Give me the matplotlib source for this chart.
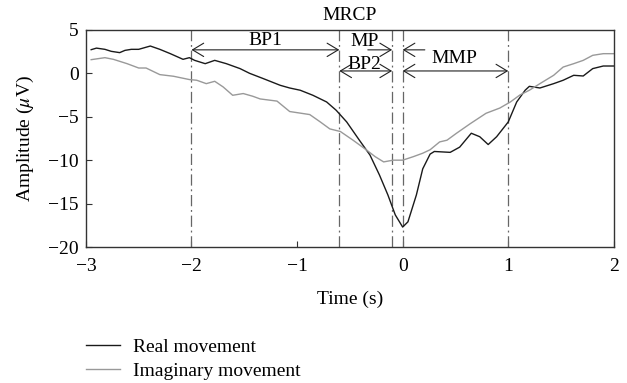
import matplotlib.pyplot as plt

plt.rcParams['font.family'] = ['Liberation Serif', 'DejaVu Serif']
plt.rcParams['mathtext.fontset'] = 'stix'

# real movement (black)
real_t = [-2.95, -2.90, -2.82, -2.76, -2.68, -2.63, -2.57, -2.50, -2.39, -2.30,
          -2.20, -2.08, -2.02, -1.97, -1.87, -1.78, -1.67, -1.54, -1.45, -1.32,
          -1.16, -1.07, -0.97, -0.85, -0.72, -0.63, -0.53, -0.41, -0.31, -0.22,
          -0.14, -0.07, 0.0, 0.05, 0.13, 0.19, 0.26, 0.30, 0.45, 0.54,
          0.65, 0.73, 0.81, 0.89, 1.0, 1.08, 1.16, 1.20, 1.30, 1.43,
          1.52, 1.62, 1.71, 1.80, 1.90, 2.0]
real_amp = [2.72, 2.9, 2.76, 2.53, 2.38, 2.64, 2.76, 2.76, 3.14, 2.76,
            2.26, 1.61, 1.80, 1.49, 1.11, 1.49, 1.11, 0.54, 0.0, -0.61,
            -1.38, -1.69, -1.95, -2.53, -3.3, -4.25, -5.6, -7.7, -9.4, -11.7,
            -14.0, -16.3, -17.7, -17.1, -14.0, -11.0, -9.3, -9.0, -9.1, -8.5,
            -6.9, -7.3, -8.2, -7.3, -5.6, -3.3, -1.95, -1.5, -1.69, -1.19,
            -0.8, -0.23, -0.31, 0.54, 0.84, 0.84]

# imaginary movement (gray)
imag_t = [-2.95, -2.82, -2.74, -2.61, -2.50, -2.43, -2.30, -2.17, -2.02, -1.95,
          -1.86, -1.78, -1.70, -1.61, -1.51, -1.42, -1.35, -1.19, -1.07, -0.88,
          -0.78, -0.69, -0.59, -0.47, -0.34, -0.26, -0.18, -0.09, 0.0, 0.10,
          0.19, 0.26, 0.35, 0.42, 0.51, 0.64, 0.79, 0.92, 1.02, 1.11,
          1.20, 1.30, 1.43, 1.52, 1.62, 1.71, 1.80, 1.90, 2.0]
imag_amp = [1.57, 1.80, 1.61, 1.11, 0.61, 0.61, -0.15, -0.34, -0.72, -0.8,
            -1.19, -0.92, -1.57, -2.53, -2.33, -2.64, -2.95, -3.2, -4.4, -4.75,
            -5.6, -6.4, -6.7, -7.7, -8.85, -9.6, -10.2, -10.0, -10.0, -9.6,
            -9.2, -8.8, -7.9, -7.7, -6.9, -5.8, -4.6, -4.0, -3.3, -2.5,
            -1.95, -1.19, -0.23, 0.72, 1.11, 1.49, 2.07, 2.26, 2.26]

markers = [-2, -0.6, -0.1, 0, 1]

fig = plt.figure(figsize=(6.27, 3.83), dpi=100)
ax = fig.add_axes([0.137, 0.355, 0.842, 0.567])

for m in markers:
    ax.axvline(m, color='#666666', lw=0.9, linestyle=(0, (9, 3, 1.5, 3)))

l1, = ax.plot(real_t, real_amp, color='#1a1a1a', lw=1.0, label='Real movement')
l2, = ax.plot(imag_t, imag_amp, color='#999999', lw=1.0, label='Imaginary movement')

arrow = dict(arrowstyle='<->,head_length=0.5,head_width=0.3', lw=0.8,
             color='#222222', shrinkA=0, shrinkB=0, mutation_scale=16)
single = dict(arrowstyle='->,head_length=0.5,head_width=0.3', lw=0.8,
              color='#222222', shrinkA=0, shrinkB=0, mutation_scale=16)
ax.annotate('', xy=(-2, 2.7), xytext=(-0.6, 2.7), arrowprops=arrow)
ax.annotate('', xy=(-0.1, 2.7), xytext=(-0.33, 2.7), arrowprops=single)
ax.annotate('', xy=(0, 2.7), xytext=(0.21, 2.7), arrowprops=single)
ax.annotate('', xy=(-0.6, 0.27), xytext=(-0.1, 0.27), arrowprops=arrow)
ax.annotate('', xy=(0, 0.27), xytext=(1, 0.27), arrowprops=arrow)

fs = 14
ax.text(-1.30, 3.8, 'BP1', ha='center', va='center', fontsize=fs)
ax.text(-0.36, 3.7, 'MP', ha='center', va='center', fontsize=fs)
ax.text(-0.36, 1.0, 'BP2', ha='center', va='center', fontsize=fs)
ax.text(0.49, 1.7, 'MMP', ha='center', va='center', fontsize=fs)

ax.set_xlim(-3, 2)
ax.set_ylim(-20, 5)
ax.set_xticks([-3, -2, -1, 0, 1, 2])
ax.set_yticks([5, 0, -5, -10, -15, -20])
ax.tick_params(direction='in', labelsize=fs, length=4, color='#333333')
ax.tick_params(axis='x', pad=8)
ax.tick_params(axis='y', pad=5)
for s in ax.spines.values():
    s.set_color('#333333')
    s.set_linewidth(1.0)

ax.set_title('MRCP', fontsize=fs, pad=7)
ax.set_xlabel('Time (s)', fontsize=fs, labelpad=11)
ax.set_ylabel(r'Amplitude ($\mu$V)', fontsize=fs, labelpad=9)

fig.legend(handles=[l1, l2], loc='upper left', bbox_to_anchor=(0.137, 0.116),
           frameon=False, fontsize=fs, handlelength=1.75, handletextpad=0.65,
           labelspacing=0.3, borderaxespad=0, borderpad=0)

fig.savefig('out.png', dpi=100)
